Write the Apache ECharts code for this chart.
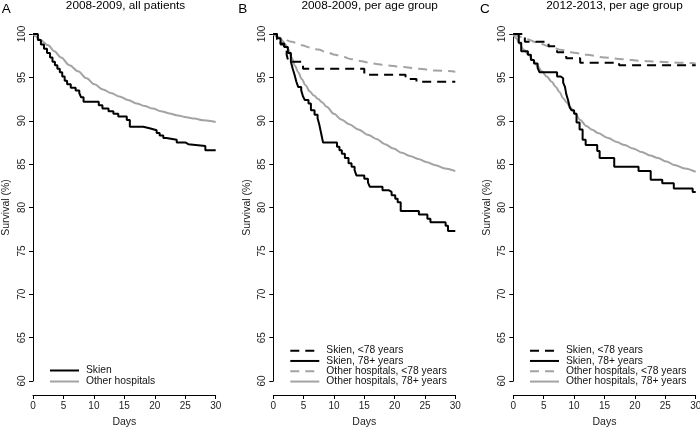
<!DOCTYPE html>
<html><head><meta charset="utf-8">
<script src="https://cdn.jsdelivr.net/npm/echarts@6/dist/echarts.min.js"></script>
<style>html,body{margin:0;padding:0;background:#fff}#c{width:700px;height:428px}</style>
</head><body><div id="c"></div>
<script>
const FONT = '"Liberation Sans", Arial, Helvetica, sans-serif';
const BLACK = '#000000';
const GREY = '#a3a3a3';

const panelLetters = ['A', 'B', 'C'];
const panelTitles = ['2008-2009, all patients', '2008-2009, per age group', '2012-2013, per age group'];
const xAxisName = 'Days';
const yAxisName = 'Survival (%)';
const legendA = ['Skien', 'Other hospitals'];
const legendBC = ['Skien, <78 years', 'Skien, 78+ years', 'Other hospitals, <78 years', 'Other hospitals, 78+ years'];

// Panel A: 2008-2009, all patients  [day, survival %]
const A_skien = [[0,100],[0.8,99.3],[1.3,98.8],[1.8,98.3],[2.3,97.8],[2.8,97.3],[3.2,96.8],[3.6,96.4],[4.0,96.0],[4.4,95.6],[4.8,95.1],[5.2,94.6],[5.6,94.2],[6.2,93.8],[7.0,93.5],[7.6,93.2],[7.9,92.7],[8.3,92.2],[10.8,91.8],[11.4,91.4],[12.4,91.1],[13.2,90.8],[14.0,90.5],[15.4,90.1],[15.9,89.3],[18.1,89.1],[19.3,88.9],[20.3,88.6],[20.8,88.3],[21.4,88.0],[21.9,87.8],[23.6,87.5],[25.0,87.3],[25.5,87.1],[28.3,86.6],[30,86.6]];
const A_other = [[0,100],[0.5,99.7],[1.2,99.3],[2.5,98.7],[3.5,98.0],[4.6,97.3],[6,96.4],[7.4,95.7],[8.8,94.9],[10.1,94.2],[11.5,93.6],[12.8,93.2],[14.2,92.8],[15.6,92.4],[17,92.0],[18.3,91.7],[19.7,91.4],[21,91.1],[22.4,90.85],[23.8,90.6],[25.2,90.4],[26.5,90.25],[28,90.05],[30,89.85]];

// Panel B: 2008-2009, per age group
const B_skienYoung = [[0,100],[0.6,99.4],[1.2,98.8],[1.8,98.2],[2.2,97.6],[2.5,96.8],[4.9,96.0],[15.0,95.3],[21.8,94.8],[23.6,94.5],[30,94.5]];
const B_skienOld = [[0,100],[0.6,99.5],[1.2,98.9],[1.8,98.5],[2.4,97.8],[2.9,96.8],[3.2,96.0],[3.5,95.3],[3.8,94.5],[4.1,93.9],[4.6,93.5],[4.9,92.8],[5.2,92.4],[5.8,92.0],[6.2,91.2],[6.8,90.7],[7.3,90.3],[7.6,89.5],[7.9,88.5],[8.2,87.5],[10.5,87.0],[10.9,86.6],[11.3,86.2],[11.8,85.7],[12.4,85.1],[12.9,84.7],[13.4,84.3],[13.7,83.7],[15.0,83.3],[15.6,82.9],[15.9,82.4],[18.0,82.0],[19.0,81.8],[19.5,81.4],[20.1,81.0],[20.5,80.6],[21.0,79.6],[24.0,79.2],[25.4,78.7],[25.9,78.3],[28.4,77.9],[28.8,77.3],[30,77.3]];
const B_otherYoung = [[0,100],[1.4,99.5],[3,99.1],[4.7,98.7],[6,98.45],[7.4,98.2],[8.8,97.9],[10.2,97.6],[11.5,97.35],[12.9,97.1],[14.3,96.9],[15.7,96.7],[17,96.55],[18.4,96.4],[21.2,96.2],[23.9,96.0],[26.6,95.8],[30,95.65]];
const B_otherOld = [[0,100],[0.7,99.7],[1.4,99.3],[2.0,98.8],[2.5,98.2],[3.0,97.3],[3.6,96.3],[4.1,95.6],[4.7,94.8],[5.3,94.1],[6.0,93.4],[6.7,92.9],[7.4,92.5],[8.1,92.1],[8.8,91.6],[10.0,90.8],[11.2,90.15],[12.5,89.6],[14.0,89.0],[15.7,88.35],[17,87.9],[18.4,87.3],[19.8,86.8],[21.2,86.3],[22.5,85.95],[23.9,85.6],[25.2,85.25],[26.6,84.9],[28.3,84.5],[30,84.2]];

// Panel C: 2012-2013, per age group
const C_skienYoung = [[0,100],[1.9,99.1],[5.8,98.6],[7.2,97.9],[8.7,97.2],[11.0,96.7],[17.4,96.4],[30,96.4]];
const C_skienOld = [[0,100],[0.9,99.0],[1.3,98.0],[2.4,97.6],[2.9,97.0],[3.4,96.6],[4.0,96.1],[4.3,95.6],[7.2,95.1],[7.8,94.9],[8.2,94.4],[8.5,93.9],[8.7,93.1],[9.0,92.4],[9.3,91.5],[9.6,91.2],[10.0,90.8],[10.4,89.8],[10.9,89.0],[11.4,87.8],[11.9,87.2],[13.8,86.5],[14.2,85.7],[16.6,84.7],[20.6,84.2],[22.6,83.2],[24.5,82.8],[26.4,82.2],[29.5,81.8],[30,81.8]];
const C_otherYoung = [[0,100],[1,99.7],[2,99.45],[4,99.0],[6,98.55],[8,98.15],[10,97.85],[12,97.6],[15,97.3],[18,97.1],[21,96.9],[24,96.8],[27,96.7],[30,96.6]];
const C_otherOld = [[0,100],[0.5,99.5],[1,98.9],[1.7,98.2],[2.5,97.6],[3.2,97.0],[4,96.3],[4.7,95.7],[5.5,95.1],[6.3,94.5],[7,93.9],[7.6,93.3],[8.2,92.6],[8.8,92.1],[9.3,91.6],[10.1,90.9],[11,90.1],[12,89.4],[13,88.95],[13.9,88.6],[15.6,88.0],[17,87.55],[18.3,87.2],[19.7,86.8],[21.1,86.4],[22.5,86.0],[23.8,85.7],[25.2,85.3],[26.5,84.9],[28.2,84.5],[30,84.1]];

const gridLefts = [33, 273.3, 513.3];
const gridWidths = [182.7, 182, 182.4];
const titleCenters = [125.5, 369.7, 614.5];
const letterLefts = [1.7, 238.3, 480];

const chart = echarts.init(document.getElementById('c'), null, {renderer: 'canvas'});

const grids = gridLefts.map((l, i) => ({left: l, top: 34, width: gridWidths[i], height: 347, containLabel: false, outerBoundsMode: 'none'}));

const xAxes = [0,1,2].map(i => ({
  gridIndex: i, type: 'value', min: 0, max: 30, interval: 5, offset: 14,
  axisLine: {show: true, onZero: false, lineStyle: {color: '#000', width: 1}},
  axisTick: {show: true, length: 4, lineStyle: {color: '#000', width: 1}},
  axisLabel: {margin: 6, fontSize: 10, color: '#222', fontFamily: FONT},
  splitLine: {show: false},
  name: xAxisName, nameLocation: 'middle', nameGap: 22,
  nameTextStyle: {fontSize: 10.5, color: '#222', fontFamily: FONT}
}));

const yAxes = [0,1,2].map(i => ({
  gridIndex: i, type: 'value', min: 60, max: 100, interval: 5,
  axisLine: {show: true, onZero: false, lineStyle: {color: '#000', width: 1}},
  axisTick: {show: true, length: 4, lineStyle: {color: '#000', width: 1}},
  axisLabel: {margin: 6, fontSize: 10, color: '#222', fontFamily: FONT, rotate: 90},
  splitLine: {show: false},
  name: yAxisName, nameLocation: 'middle', nameGap: 21, nameRotate: 90,
  nameTextStyle: {fontSize: 10.5, color: '#222', fontFamily: FONT}
}));

function km(name, data, idx, color, dashed) {
  return {
    type: 'line', name: name, data: data, xAxisIndex: idx, yAxisIndex: idx,
    step: 'end', symbol: 'none', showSymbol: false, clip: false, animation: false,
    lineStyle: {color: color, width: 2, type: dashed ? [9, 6] : 'solid'},
    itemStyle: {color: color}
  };
}
function smoothLine(name, data, idx, color, dashed) {
  return {
    type: 'line', name: name, data: data, xAxisIndex: idx, yAxisIndex: idx,
    smooth: 0.35, smoothMonotone: 'x', symbol: 'none', showSymbol: false, clip: false, animation: false,
    lineStyle: {color: color, width: 2, type: dashed ? [9, 6] : 'solid'},
    itemStyle: {color: color}
  };
}

const series = [
  smoothLine(legendA[1], A_other, 0, GREY, false),
  km(legendA[0], A_skien, 0, BLACK, false),
  smoothLine(legendBC[2], B_otherYoung, 1, GREY, true),
  smoothLine(legendBC[3], B_otherOld, 1, GREY, false),
  km(legendBC[0], B_skienYoung, 1, BLACK, true),
  km(legendBC[1], B_skienOld, 1, BLACK, false),
  smoothLine(legendBC[2], C_otherYoung, 2, GREY, true),
  smoothLine(legendBC[3], C_otherOld, 2, GREY, false),
  km(legendBC[0], C_skienYoung, 2, BLACK, true),
  km(legendBC[1], C_skienOld, 2, BLACK, false)
];

const legendCommon = {
  orient: 'vertical', itemWidth: 29, itemGap: 0, selectedMode: false,
  itemStyle: {opacity: 0},
  textStyle: {fontSize: 10.3, color: '#111', fontFamily: FONT, padding: [0, 0, 0, 2]}
};
const legends = [
  Object.assign({}, legendCommon, {data: legendA, left: 44, top: 360, itemHeight: 11,
    textStyle: Object.assign({}, legendCommon.textStyle, {lineHeight: 11})}),
  Object.assign({}, legendCommon, {data: legendBC, left: 284.3, top: 340.5, itemHeight: 10.3,
    textStyle: Object.assign({}, legendCommon.textStyle, {lineHeight: 10.3})}),
  Object.assign({}, legendCommon, {data: legendBC, left: 524, top: 340.5, itemHeight: 10.3,
    textStyle: Object.assign({}, legendCommon.textStyle, {lineHeight: 10.3})})
];

const graphics = [];
[0,1,2].forEach(i => {
  graphics.push({type: 'text', left: letterLefts[i], top: 2, style: {text: panelLetters[i], fontSize: 13.5, fontFamily: FONT, fill: '#000'}});
  graphics.push({type: 'text', x: titleCenters[i], y: 5.5, style: {text: panelTitles[i], fontSize: 11.8, fontFamily: FONT, fill: '#000', align: 'center', verticalAlign: 'middle'}});
});

chart.setOption({
  animation: false,
  backgroundColor: '#fff',
  grid: grids,
  xAxis: xAxes,
  yAxis: yAxes,
  legend: legends,
  series: series,
  graphic: graphics
});
</script>
</body></html>
